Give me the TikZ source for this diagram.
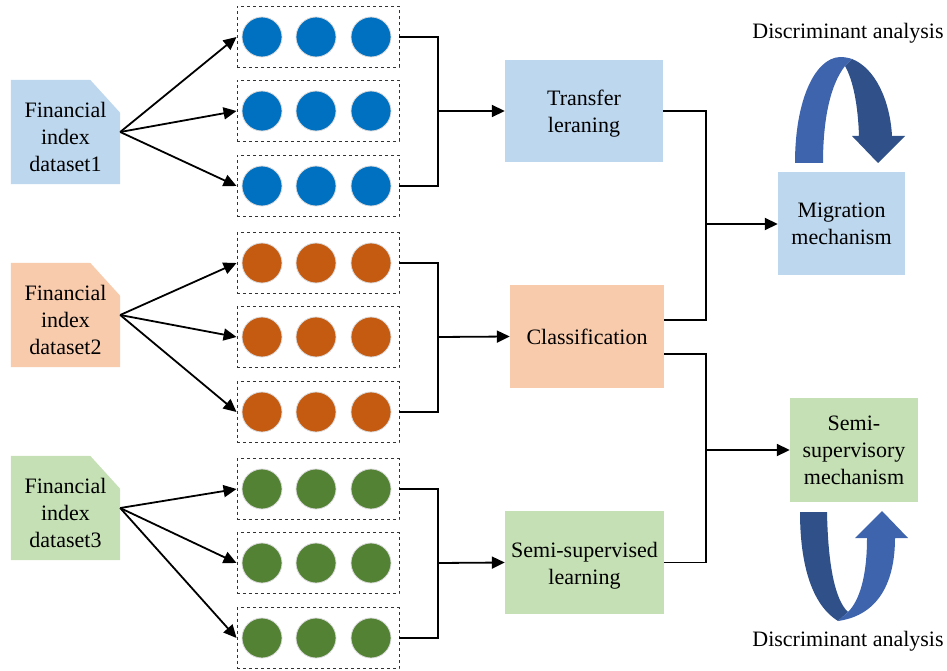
\documentclass[tikz,border=0pt]{standalone}
\usepackage{fontspec}
\setmainfont{Liberation Serif}
\usetikzlibrary{arrows.meta,backgrounds,calc}

\definecolor{paleblue}{HTML}{BDD7EE}
\definecolor{paleorange}{HTML}{F8CBAD}
\definecolor{palegreen}{HTML}{C5E0B4}
\definecolor{dotblue}{HTML}{0070C0}
\definecolor{dotorange}{HTML}{C55A11}
\definecolor{dotgreen}{HTML}{548235}
\definecolor{ribbonfront}{HTML}{3F64AE}
\definecolor{ribbonback}{HTML}{2F5089}

\begin{document}
\begin{tikzpicture}[x=1pt,y=-1pt,
  font=\fontsize{22}{27}\selectfont,
  line/.style={line width=1.8pt},
  arr/.style={line, -{Triangle[length=13pt,width=12pt]}},
  rowbox/.style={draw=black!80, dashed, line width=0.9pt,
    minimum width=162pt, minimum height=61pt, inner sep=0pt},
  dot/.style={circle, minimum size=40pt, inner sep=0pt,
    draw=gray!30, line width=0.8pt},
  datanode/.style={minimum width=109pt, minimum height=104pt,
    inner sep=0pt},
  doclabel/.style={inner sep=0pt, align=center},
  procbox/.style={inner sep=0pt, align=center},
]
\useasboundingbox (0,0) rectangle (947,671);

% ---------- dataset documents (folded corner) ----------
\node[datanode] (d1) at (65.5,132) {};
\node[datanode] (d2) at (65.5,315) {};
\node[datanode] (d3) at (65.5,508) {};
\foreach \d/\c in {d1/paleblue, d2/paleorange, d3/palegreen}{
  \fill[\c] (\d.south west) -- (\d.north west)
    -- ([xshift=-30pt]\d.north east) -- ([yshift=-33pt]\d.north east)
    -- (\d.south east) -- cycle;
}
\node[doclabel] (d1t) at ([yshift=-5pt]d1.center) {Financial\\index\\dataset1};
\node[doclabel] (d2t) at ([yshift=-5pt]d2.center) {Financial\\index\\dataset2};
\node[doclabel] (d3t) at ([yshift=-5pt]d3.center) {Financial\\index\\dataset3};

% ---------- rows of dots ----------
\foreach \g/\c/\ya/\yb/\yc in {1/dotblue/37/111/186, 2/dotorange/263/337/412, 3/dotgreen/489/563/638}{
  \foreach \r/\y in {1/\ya, 2/\yb, 3/\yc}{
    \node[rowbox] (g\g r\r) at (318,\y) {};
    \node[dot, fill=\c] (g\g r\r a) at (262,\y) {};
    \node[dot, fill=\c] (g\g r\r b) at (316,\y) {};
    \node[dot, fill=\c] (g\g r\r c) at (371,\y) {};
  }
}

% ---------- fan-out arrows ----------
\foreach \g in {1,2,3}{
  \foreach \r in {1,2,3}{
    \draw[arr] (d\g.east) -- (g\g r\r.west);
  }
}

% ---------- learning stages ----------
\node[procbox, fill=paleblue, minimum width=158pt, minimum height=102pt]
  (tl) at (584,111) {};
\node[procbox] (tlt) at ([yshift=-3pt]tl.center) {Transfer\\leraning};
\node[procbox, fill=paleorange, minimum width=154pt, minimum height=103pt]
  (cl) at (587,336.5) {Classification};
\node[procbox, fill=palegreen, minimum width=159pt, minimum height=103pt]
  (ssl) at (584.5,562.5) {};
\node[procbox] (sslt) at ([yshift=-3pt]ssl.center) {Semi-supervised\\learning};

% ---------- mechanisms ----------
\node[procbox, fill=paleblue, minimum width=127pt, minimum height=103pt]
  (mm) at (841.5,223.5) {Migration\\mechanism};
\node[procbox, fill=palegreen, minimum width=128pt, minimum height=104pt]
  (ssm) at (854,450) {Semi-\\supervisory\\mechanism};

% ---------- merging connectors ----------
\coordinate (j1) at (438,111);
\coordinate (j2) at (438,337);
\coordinate (j3) at (438,563);
\draw[line] (g1r1.east) -| (j1) |- (g1r3.east);
\draw[line] (g2r1.east) -| (j2) |- (g2r3.east);
\draw[line] (g3r1.east) -| (j3) |- (g3r3.east);
\draw[arr] (j1) -- (tl.west);
\draw[arr] (j2) -- (cl.west);
\draw[arr] (j3) -- (ssl.west);

\coordinate (j4) at (706,224);
\coordinate (j5) at (706,450);
\draw[line] (tl.east) -| (j4) |- ([yshift=16.5pt]cl.east);
\draw[line] ([yshift=-17.5pt]cl.east) -| (j5) |- (ssl.east);
\draw[arr] (j4) -- (j4 -| mm.west);
\draw[arr] (j5) -- (j5 -| ssm.west);

% ---------- discriminant analysis loops ----------
\node (da1) at (848,33) {Discriminant analysis};
\node (da2) at (848,641) {Discriminant analysis};

% upper loop: rises on the left, turns down into the arrow head
\fill[ribbonfront] (795,163) .. controls (795,100) and (815,58) .. (840,57)
  .. controls (845,57) and (849,58) .. (852,59)
  -- (845,66) .. controls (830,85) and (823,120) .. (823,163) -- cycle;
\fill[ribbonback] (852,59) .. controls (875,68) and (890,100) .. (892,136)
  -- (905,136) -- (878,163) -- (852,136) -- (859,136)
  .. controls (858,105) and (853,80) .. (845,66) -- cycle;

% lower loop: falls on the left, turns up into the arrow head
\fill[ribbonback] (800,512) -- (827,512)
  .. controls (828,565) and (835,600) .. (848,612)
  -- (838,621) .. controls (812,605) and (800,565) .. (800,512) -- cycle;
\fill[ribbonfront] (838,621) .. controls (880,615) and (895,580) .. (895,538)
  -- (908,538) -- (882,511) -- (855,538) -- (867,538)
  .. controls (867,575) and (860,600) .. (848,612) -- cycle;
\end{tikzpicture}
\end{document}
